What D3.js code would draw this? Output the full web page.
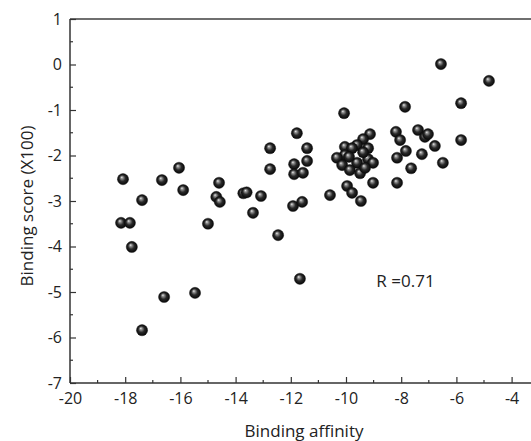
<!DOCTYPE html>
<html>
<head>
<meta charset="utf-8">
<script src="https://cdn.jsdelivr.net/npm/d3@7"></script>
<style>
  html, body { margin: 0; padding: 0; background: #fff; }
  svg { display: block; }
  text { font-family: "Open Sans", "Noto Sans", sans-serif; fill: #222; }
</style>
</head>
<body>
<svg id="chart" width="531" height="441"></svg>
<script>
// Data
const bindingAffinity = [
  -18.08, -17.39, -16.67, -16.05, -15.90, -14.60, -14.70, -14.57, -13.72, -13.60,
  -13.08, -13.37, -12.75, -12.75, -18.15, -17.83, -17.76, -15.00, -16.59, -15.47,
  -17.39, -11.67, -12.46, -6.56, -4.82, -10.07, -7.86, -5.83, -5.83, -11.78,
  -11.41, -11.41, -11.88, -11.88, -11.56, -11.92, -11.59, -10.58, -9.96, -9.78,
  -9.46, -9.02, -8.15, -9.13, -9.38, -9.60, -10.04, -9.78, -9.20, -10.04,
  -10.33, -9.20, -9.02, -9.60, -10.14, -9.86, -9.49, -9.31, -9.89, -9.38,
  -8.19, -8.04, -7.39, -7.14, -7.03, -6.78, -7.83, -8.15, -7.25, -7.64, -6.49
];
const bindingScore = [
  -2.52, -2.98, -2.54, -2.27, -2.76, -2.60, -2.91, -3.02, -2.83, -2.81,
  -2.89, -3.26, -1.84, -2.30, -3.48, -3.48, -4.01, -3.50, -5.11, -5.02,
  -5.84, -4.71, -3.75, 0.01, -0.36, -1.07, -0.93, -0.85, -1.66, -1.51,
  -1.84, -2.12, -2.19, -2.41, -2.38, -3.11, -3.02, -2.87, -2.67, -2.82,
  -3.00, -2.60, -2.60, -1.53, -1.64, -1.77, -1.81, -1.84, -1.84, -1.99,
  -2.05, -2.08, -2.16, -2.16, -2.21, -2.32, -2.39, -2.27, -2.03, -1.93,
  -1.48, -1.66, -1.44, -1.59, -1.53, -1.79, -1.90, -2.05, -1.97, -2.28, -2.16
];
const xTicks = [-20, -18, -16, -14, -12, -10, -8, -6, -4];
const xMinorTicks = [-19, -17, -15, -13, -11, -9, -7, -5, -3];
const yTicks = [1, 0, -1, -2, -3, -4, -5, -6, -7];
const yMinorTicks = [0.5, -0.5, -1.5, -2.5, -3.5, -4.5, -5.5, -6.5];
const xTitle = "Binding affinity";
const yTitle = "Binding score (X100)";
const annotation = "R =0.71";

const svg = d3.select("#chart");
const mLeft = 70, mRight = 539.2, mTop = 19, mBottom = 383;

const x = d3.scaleLinear().domain([-20, -3]).range([mLeft, mRight]);
const y = d3.scaleLinear().domain([-7, 1]).range([mBottom, mTop]);

// gradient for spheres
const defs = svg.append("defs");
const grad = defs.append("radialGradient")
  .attr("id", "ball").attr("cx", "50%").attr("cy", "50%").attr("r", "50%")
  .attr("fx", "38%").attr("fy", "32%");
grad.append("stop").attr("offset", "0%").attr("stop-color", "#f4f4f4");
grad.append("stop").attr("offset", "18%").attr("stop-color", "#9a9a9a");
grad.append("stop").attr("offset", "55%").attr("stop-color", "#2a2a2a");
grad.append("stop").attr("offset", "100%").attr("stop-color", "#050505");

// top frame line
svg.append("line")
  .attr("x1", mLeft).attr("x2", 531).attr("y1", mTop).attr("y2", mTop)
  .attr("stroke", "#6f6f6f").attr("stroke-width", 2);

// X axis
const fmt = d => d < 0 ? "-" + Math.abs(d) : d;
const xAxis = d3.axisBottom(x).tickValues(xTicks).tickSizeInner(-6).tickSizeOuter(0).tickFormat(fmt);
const gx = svg.append("g").attr("transform", `translate(0,${mBottom})`).call(xAxis);
gx.select(".domain").remove();
gx.append("line").attr("x1", mLeft).attr("x2", 531).attr("y1", 0).attr("y2", 0)
  .attr("stroke", "#333").attr("stroke-width", 1.5);
gx.selectAll(".tick line").attr("stroke", "#333").attr("stroke-width", 1.2);
gx.selectAll(".tick text").attr("y", 10).attr("dy", "0.71em")
  .style("font-size", "16px").style("font-family", "'Open Sans', sans-serif").attr("fill", "#222");
gx.selectAll(".minor").data(xMinorTicks).enter().append("line")
  .attr("x1", d => x(d)).attr("x2", d => x(d)).attr("y1", 0).attr("y2", -3)
  .attr("stroke", "#333").attr("stroke-width", 1.2);

// Y axis
const yAxis = d3.axisLeft(y).tickValues(yTicks).tickSizeInner(-6).tickSizeOuter(0).tickFormat(fmt);
const gy = svg.append("g").attr("transform", `translate(${mLeft},0)`).call(yAxis);
gy.select(".domain").remove();
gy.append("line").attr("x1", 0).attr("x2", 0).attr("y1", mTop).attr("y2", mBottom)
  .attr("stroke", "#333").attr("stroke-width", 1.5);
gy.selectAll(".tick line").attr("stroke", "#333").attr("stroke-width", 1.2);
gy.selectAll(".tick text").attr("x", -8)
  .style("font-size", "16px").style("font-family", "'Open Sans', sans-serif").attr("fill", "#222");
gy.selectAll(".minor").data(yMinorTicks).enter().append("line")
  .attr("y1", d => y(d)).attr("y2", d => y(d)).attr("x1", 0).attr("x2", 3)
  .attr("stroke", "#333").attr("stroke-width", 1.2);

// points
const pts = bindingAffinity.map((v, i) => ({ x: v, y: bindingScore[i] }));
svg.append("g").selectAll("circle").data(pts).enter().append("circle")
  .attr("cx", d => x(d.x)).attr("cy", d => y(d.y)).attr("r", 5.6)
  .attr("fill", "url(#ball)").attr("stroke", "#111").attr("stroke-width", 0.4);

// titles
svg.append("text").attr("x", 304).attr("y", 437).attr("text-anchor", "middle")
  .style("font-size", "17px").text(xTitle);
svg.append("text").attr("transform", "translate(27,206) rotate(-90)")
  .attr("text-anchor", "middle").attr("dy", "0.35em")
  .style("font-size", "17px").text(yTitle);
svg.append("text").attr("x", x(-8.9)).attr("y", y(-4.9))
  .style("font-size", "17px").text(annotation);
</script>
</body>
</html>
